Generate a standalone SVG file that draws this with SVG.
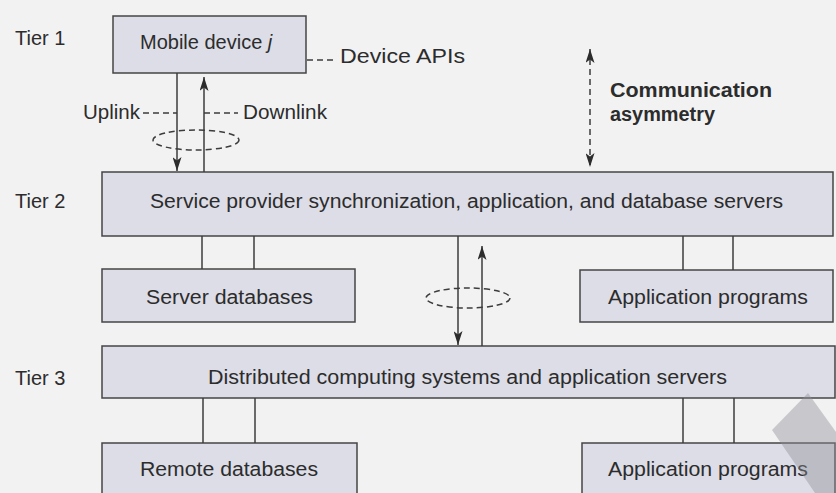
<svg xmlns="http://www.w3.org/2000/svg" width="836" height="493" viewBox="0 0 836 493">
<style>
.box{fill:#dcdde7;stroke:#454545;stroke-width:1.5}
.t{font-family:"Liberation Sans",Arial,sans-serif;font-size:20px;fill:#2c2c2c}
.b{font-weight:bold}
.ln{stroke:#3c3c3c;stroke-width:1.5;fill:none}
.dash{stroke:#3c3c3c;stroke-width:1.5;fill:none;stroke-dasharray:6 4}
</style>
<defs>
<marker id="ah" viewBox="0 0 14 9" refX="14" refY="4.5" markerWidth="14" markerHeight="9" markerUnits="userSpaceOnUse" orient="auto">
<path d="M0,0 L14,4.5 L0,9 L3.5,4.5 Z" fill="#2c2c2c"/>
</marker>
<marker id="ahs" viewBox="0 0 14 9" refX="0" refY="4.5" markerWidth="14" markerHeight="9" markerUnits="userSpaceOnUse" orient="auto">
<path d="M14,0 L0,4.5 L14,9 L10.5,4.5 Z" fill="#2c2c2c"/>
</marker>
</defs>
<rect width="836" height="493" fill="#f2f2f3"/>
<g id="tier-labels">
<text class="t" x="15" y="45">Tier 1</text>
<text class="t" x="15" y="208">Tier 2</text>
<text class="t" x="15" y="385">Tier 3</text>
</g>
<g id="mobile-device">
<rect class="box" x="113" y="16" width="193" height="57"/>
<text class="t" x="140" y="49">Mobile device <tspan font-style="italic">j</tspan></text>
</g>
<g id="service-provider">
<rect class="box" x="102" y="172" width="731" height="64"/>
<text class="t" x="150" y="208" textLength="633" lengthAdjust="spacingAndGlyphs">Service provider synchronization, application, and database servers</text>
</g>
<g id="server-databases">
<rect class="box" x="102" y="269" width="253" height="53"/>
<text class="t" x="146" y="304" textLength="167" lengthAdjust="spacingAndGlyphs">Server databases</text>
</g>
<g id="application-programs-2">
<rect class="box" x="580" y="270" width="253" height="52"/>
<text class="t" x="608" y="304" textLength="200" lengthAdjust="spacingAndGlyphs">Application programs</text>
</g>
<g id="distributed-computing">
<rect class="box" x="102" y="346" width="733" height="52"/>
<text class="t" x="208" y="384" textLength="519" lengthAdjust="spacingAndGlyphs">Distributed computing systems and application servers</text>
</g>
<g id="remote-databases">
<rect class="box" x="102" y="443" width="255" height="60"/>
<text class="t" x="140" y="476" textLength="178" lengthAdjust="spacingAndGlyphs">Remote databases</text>
</g>
<g id="application-programs-3">
<rect class="box" x="582" y="443" width="253" height="60"/>
<text class="t" x="608" y="476" textLength="200" lengthAdjust="spacingAndGlyphs">Application programs</text>
</g>
<g id="annotations">
<text class="t" x="340" y="63" textLength="125" lengthAdjust="spacingAndGlyphs">Device APIs</text>
<text class="t" x="83" y="119" textLength="57" lengthAdjust="spacingAndGlyphs">Uplink</text>
<text class="t" x="243" y="119" textLength="84" lengthAdjust="spacingAndGlyphs">Downlink</text>
<text class="t b" x="610" y="97" textLength="162" lengthAdjust="spacingAndGlyphs">Communication</text>
<text class="t b" x="610" y="121" textLength="105" lengthAdjust="spacingAndGlyphs">asymmetry</text>
</g>
<g id="connectors">
<line class="ln" x1="177" y1="73" x2="177" y2="171" marker-end="url(#ah)"/>
<line class="ln" x1="204" y1="172" x2="204" y2="77" marker-end="url(#ah)"/>
<ellipse class="dash" cx="196" cy="140" rx="43" ry="10"/>
<line class="dash" x1="307" y1="60" x2="336" y2="60"/>
<line class="dash" x1="143" y1="113" x2="177" y2="113"/>
<line class="dash" x1="204" y1="113" x2="238" y2="113"/>
<line class="dash" x1="590" y1="49" x2="590" y2="167" stroke-dasharray="5 3" marker-start="url(#ahs)" marker-end="url(#ah)"/>
<line class="ln" x1="202" y1="236" x2="202" y2="269"/>
<line class="ln" x1="254" y1="236" x2="254" y2="269"/>
<line class="ln" x1="683" y1="236" x2="683" y2="270"/>
<line class="ln" x1="733" y1="236" x2="733" y2="270"/>
<line class="ln" x1="458" y1="236" x2="458" y2="345" marker-end="url(#ah)"/>
<line class="ln" x1="482" y1="346" x2="482" y2="246" marker-end="url(#ah)"/>
<ellipse class="dash" cx="468" cy="298" rx="42" ry="10"/>
<line class="ln" x1="203" y1="398" x2="203" y2="443"/>
<line class="ln" x1="255" y1="398" x2="255" y2="443"/>
<line class="ln" x1="683" y1="398" x2="683" y2="443"/>
<line class="ln" x1="734" y1="398" x2="734" y2="443"/>
</g>
<polygon points="808,393 836,432 836,493 815,493 772,430" fill="#8e8e95" fill-opacity="0.42"/>
</svg>
